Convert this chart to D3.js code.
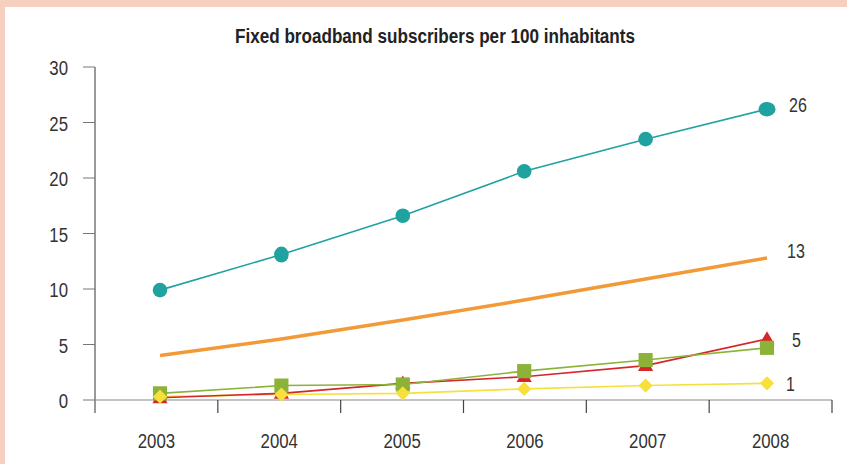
<!DOCTYPE html>
<html>
<head>
<meta charset="utf-8">
<script src="https://cdn.jsdelivr.net/npm/d3@7"></script>
<style>
  html, body { margin: 0; padding: 0; background: #fff; }
  svg { display: block; }
  text { font-family: "Liberation Sans", Arial, sans-serif; fill: #333; }
</style>
</head>
<body>
<svg id="chart" width="847" height="464"></svg>
<script>
const title = "Fixed broadband subscribers per 100 inhabitants";
const years = ["2003", "2004", "2005", "2006", "2007", "2008"];
const yTicks = [0, 5, 10, 15, 20, 25, 30];
const teal   = [9.9, 13.1, 16.6, 20.6, 23.5, 26.2];
const orange = [4.0, 5.5, 7.2, 9.0, 10.9, 12.8];
const red    = [0.2, 0.6, 1.5, 2.1, 3.1, 5.5];
const green  = [0.6, 1.3, 1.4, 2.6, 3.6, 4.7];
const yellow = [0.3, 0.5, 0.6, 1.0, 1.3, 1.5];
const endLabels = ["26", "13", "5", "1"];

const SX = 0.8; // horizontal condense factor for labels
const svg = d3.select("#chart");
// frame
svg.append("rect").attr("x", 0).attr("y", 0).attr("width", 847).attr("height", 464).attr("fill", "#f6cfc1");
svg.append("rect").attr("x", 5).attr("y", 7).attr("width", 842).attr("height", 457).attr("fill", "#fff");

const x0 = 95, x1 = 832, yTop = 67, yBase = 400;
const xBand = d3.scaleBand().domain(years).range([x0, x1]);
const xPt = d3.scalePoint().domain(years).range([160, 767]);
const y = d3.scaleLinear().domain([0, 30]).range([yBase, yTop]);

// title
svg.append("text").attr("x", 435).attr("y", 43).attr("text-anchor", "middle")
  .attr("textLength", 400).attr("lengthAdjust", "spacingAndGlyphs")
  .style("font-size", "19.5px").style("font-weight", "bold").style("fill", "#222").text(title);

// y axis
const yAxis = svg.append("g");
yAxis.append("line").attr("x1", x0).attr("x2", x0).attr("y1", yTop).attr("y2", yBase + 13)
  .attr("stroke", "#555").attr("stroke-width", 1.2);
yAxis.selectAll("line.t").data(yTicks).join("line").attr("class", "t")
  .attr("x1", x0 - 12).attr("x2", x0).attr("y1", d => y(d)).attr("y2", d => y(d))
  .attr("stroke", "#777").attr("stroke-width", 1);
yAxis.selectAll("text").data(yTicks).join("text")
  .attr("transform", d => `translate(68,${y(d) + 8}) scale(${SX},1)`).attr("text-anchor", "end")
  .style("font-size", "21px").text(d => d);

// x axis
const xAxis = svg.append("g");
xAxis.append("line").attr("x1", x0).attr("x2", x1).attr("y1", yBase).attr("y2", yBase)
  .attr("stroke", "#888").attr("stroke-width", 1.2);
const bounds = years.map(d => xBand(d)).concat([x1]);
xAxis.selectAll("line.t").data(bounds.slice(1)).join("line").attr("class", "t")
  .attr("x1", d => d).attr("x2", d => d).attr("y1", yBase).attr("y2", yBase + 13)
  .attr("stroke", "#444").attr("stroke-width", 1.2);
xAxis.selectAll("text").data(years).join("text")
  .attr("transform", d => `translate(${xBand(d) + xBand.bandwidth() / 2},448) scale(${SX},1)`)
  .attr("text-anchor", "middle")
  .style("font-size", "21px").text(d => d);

const line = d3.line().x((d, i) => xPt(years[i])).y(d => y(d));

function series(vals, color, width) {
  svg.append("path").datum(vals).attr("d", line).attr("fill", "none")
    .attr("stroke", color).attr("stroke-width", width);
}
// lines
series(yellow, "#f5e13c", 1.6);
series(red, "#d7262b", 1.6);
series(green, "#8db23a", 1.6);
series(orange, "#f39a38", 3.5);
series(teal, "#1fa2a0", 1.6);

// markers
const sym = (type, size) => d3.symbol().type(type).size(size);
svg.selectAll("path.tri").data(red).join("path").attr("class", "tri")
  .attr("transform", (d, i) => `translate(${xPt(years[i])},${y(d) + 1})`)
  .attr("d", sym(d3.symbolTriangle, 100)).attr("fill", "#d7262b");
svg.selectAll("path.sq").data(green).join("path").attr("class", "sq")
  .attr("transform", (d, i) => `translate(${xPt(years[i])},${y(d)})`)
  .attr("d", sym(d3.symbolSquare, 200)).attr("fill", "#8db23a");
svg.selectAll("path.dia").data(yellow).join("path").attr("class", "dia")
  .attr("transform", (d, i) => `translate(${xPt(years[i])},${y(d)}) rotate(45)`)
  .attr("d", sym(d3.symbolSquare, 100)).attr("fill", "#f7e03c");
svg.selectAll("ellipse.c").data(teal).join("ellipse").attr("class", "c")
  .attr("cx", (d, i) => xPt(years[i])).attr("cy", d => y(d))
  .attr("rx", (d, i) => i === 5 ? 8.5 : 7.3).attr("ry", (d, i) => i === 1 ? 8 : 7.3).attr("fill", "#1fa2a0");

// end labels
const labelX = [789, 787, 792, 786];
const labelY = [112, 258, 347, 391];
svg.selectAll("text.end").data(endLabels).join("text").attr("class", "end")
  .attr("transform", (d, i) => `translate(${labelX[i]},${labelY[i]}) scale(${SX},1)`)
  .style("font-size", "20px").text(d => d);
</script>
</body>
</html>
